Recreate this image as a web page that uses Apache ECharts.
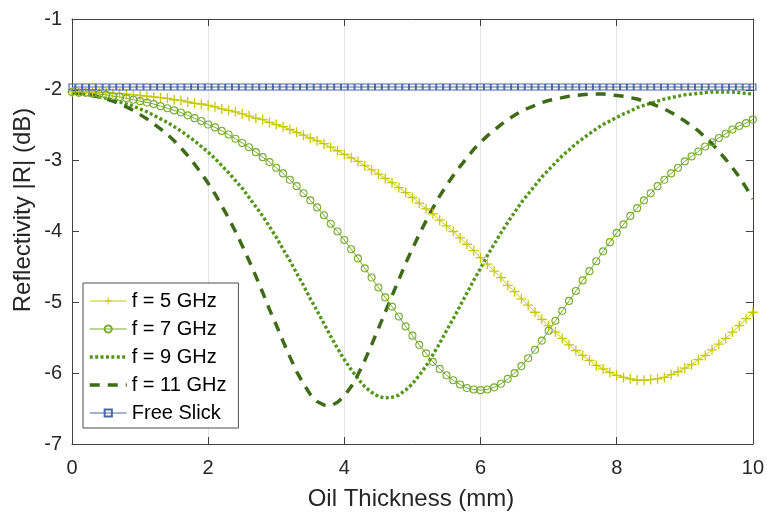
<!DOCTYPE html>
<html>
<head>
<meta charset="utf-8">
<script src="https://cdn.jsdelivr.net/npm/echarts@6/dist/echarts.min.js"></script>
<style>
html,body{margin:0;padding:0;background:#ffffff;}
#chart{width:767px;height:516px;}
</style>
</head>
<body>
<div id="chart"></div>
<script>
// Oil thickness (mm)
const thickness = [0,0.1,0.2,0.3,0.4,0.5,0.6,0.7,0.8,0.9,
  1,1.1,1.2,1.3,1.4,1.5,1.6,1.7,1.8,1.9,
  2,2.1,2.2,2.3,2.4,2.5,2.6,2.7,2.8,2.9,
  3,3.1,3.2,3.3,3.4,3.5,3.6,3.7,3.8,3.9,
  4,4.1,4.2,4.3,4.4,4.5,4.6,4.7,4.8,4.9,
  5,5.1,5.2,5.3,5.4,5.5,5.6,5.7,5.8,5.9,
  6,6.1,6.2,6.3,6.4,6.5,6.6,6.7,6.8,6.9,
  7,7.1,7.2,7.3,7.4,7.5,7.6,7.7,7.8,7.9,
  8,8.1,8.2,8.3,8.4,8.5,8.6,8.7,8.8,8.9,
  9,9.1,9.2,9.3,9.4,9.5,9.6,9.7,9.8,9.9,10];

// Reflectivity |R| (dB)
const f5GHz = [-2.03,-2.03,-2.03,-2.03,-2.04,-2.04,-2.05,-2.05,-2.06,-2.07,
  -2.08,-2.09,-2.10,-2.11,-2.12,-2.14,-2.15,-2.17,-2.19,-2.20,
  -2.22,-2.24,-2.27,-2.29,-2.31,-2.34,-2.37,-2.40,-2.42,-2.46,
  -2.49,-2.52,-2.56,-2.60,-2.64,-2.68,-2.72,-2.76,-2.81,-2.86,
  -2.91,-2.96,-3.01,-3.07,-3.13,-3.19,-3.25,-3.31,-3.38,-3.45,
  -3.52,-3.60,-3.68,-3.75,-3.84,-3.92,-4.00,-4.09,-4.18,-4.27,
  -4.37,-4.46,-4.56,-4.65,-4.76,-4.85,-4.95,-5.04,-5.14,-5.24,
  -5.33,-5.42,-5.51,-5.60,-5.68,-5.75,-5.82,-5.89,-5.94,-5.99,
  -6.03,-6.06,-6.08,-6.10,-6.10,-6.09,-6.08,-6.06,-6.02,-5.98,
  -5.93,-5.88,-5.81,-5.75,-5.67,-5.59,-5.51,-5.42,-5.33,-5.23,-5.14];

const f7GHz = [-2.03,-2.04,-2.04,-2.05,-2.06,-2.07,-2.09,-2.10,-2.12,-2.14,
  -2.16,-2.18,-2.20,-2.23,-2.26,-2.29,-2.32,-2.36,-2.40,-2.44,
  -2.49,-2.53,-2.58,-2.63,-2.69,-2.75,-2.81,-2.88,-2.95,-3.02,
  -3.10,-3.18,-3.27,-3.36,-3.46,-3.56,-3.66,-3.77,-3.89,-4.00,
  -4.12,-4.25,-4.38,-4.52,-4.65,-4.79,-4.93,-5.06,-5.20,-5.34,
  -5.47,-5.60,-5.72,-5.84,-5.94,-6.03,-6.10,-6.16,-6.21,-6.23,
  -6.24,-6.23,-6.20,-6.15,-6.08,-6.00,-5.90,-5.79,-5.67,-5.54,
  -5.40,-5.26,-5.12,-4.98,-4.84,-4.69,-4.56,-4.42,-4.28,-4.15,
  -4.02,-3.90,-3.78,-3.67,-3.56,-3.46,-3.36,-3.27,-3.18,-3.10,
  -3.01,-2.94,-2.87,-2.80,-2.74,-2.68,-2.62,-2.56,-2.51,-2.47,-2.42];

const f9GHz = [-2.04,-2.05,-2.06,-2.08,-2.10,-2.12,-2.14,-2.17,-2.20,-2.23,
  -2.27,-2.31,-2.36,-2.41,-2.46,-2.52,-2.58,-2.65,-2.72,-2.80,
  -2.88,-2.97,-3.07,-3.17,-3.28,-3.39,-3.52,-3.65,-3.78,-3.93,
  -4.08,-4.25,-4.41,-4.59,-4.76,-4.95,-5.12,-5.30,-5.48,-5.65,
  -5.81,-5.95,-6.08,-6.19,-6.27,-6.33,-6.35,-6.34,-6.31,-6.24,
  -6.15,-6.03,-5.90,-5.74,-5.58,-5.40,-5.23,-5.05,-4.87,-4.69,
  -4.52,-4.34,-4.18,-4.02,-3.87,-3.73,-3.59,-3.47,-3.35,-3.23,
  -3.13,-3.03,-2.93,-2.85,-2.76,-2.69,-2.62,-2.55,-2.49,-2.44,
  -2.39,-2.34,-2.30,-2.25,-2.22,-2.19,-2.16,-2.13,-2.11,-2.09,
  -2.07,-2.06,-2.05,-2.04,-2.03,-2.03,-2.03,-2.03,-2.04,-2.05,-2.06];

const f11GHz = [-2.04,-2.05,-2.06,-2.08,-2.10,-2.13,-2.16,-2.20,-2.24,-2.29,
  -2.35,-2.41,-2.48,-2.55,-2.63,-2.72,-2.82,-2.93,-3.05,-3.18,
  -3.32,-3.47,-3.64,-3.81,-4.00,-4.20,-4.41,-4.63,-4.86,-5.10,
  -5.32,-5.55,-5.77,-5.98,-6.15,-6.30,-6.40,-6.45,-6.46,-6.41,
  -6.32,-6.19,-6.02,-5.82,-5.60,-5.37,-5.14,-4.91,-4.68,-4.45,
  -4.24,-4.04,-3.85,-3.67,-3.50,-3.35,-3.21,-3.08,-2.96,-2.84,
  -2.74,-2.65,-2.57,-2.49,-2.42,-2.36,-2.30,-2.26,-2.22,-2.18,
  -2.15,-2.13,-2.11,-2.09,-2.08,-2.07,-2.06,-2.06,-2.06,-2.07,
  -2.08,-2.09,-2.11,-2.13,-2.16,-2.19,-2.23,-2.27,-2.32,-2.38,
  -2.44,-2.51,-2.58,-2.67,-2.76,-2.87,-2.98,-3.10,-3.23,-3.38,-3.54];

const freeSlick = [-1.96,-1.96,-1.96,-1.96,-1.96,-1.96,-1.96,-1.96,-1.96,-1.96,
  -1.96,-1.96,-1.96,-1.96,-1.96,-1.96,-1.96,-1.96,-1.96,-1.96,
  -1.96,-1.96,-1.96,-1.96,-1.96,-1.96,-1.96,-1.96,-1.96,-1.96,
  -1.96,-1.96,-1.96,-1.96,-1.96,-1.96,-1.96,-1.96,-1.96,-1.96,
  -1.96,-1.96,-1.96,-1.96,-1.96,-1.96,-1.96,-1.96,-1.96,-1.96,
  -1.96,-1.96,-1.96,-1.96,-1.96,-1.96,-1.96,-1.96,-1.96,-1.96,
  -1.96,-1.96,-1.96,-1.96,-1.96,-1.96,-1.96,-1.96,-1.96,-1.96,
  -1.96,-1.96,-1.96,-1.96,-1.96,-1.96,-1.96,-1.96,-1.96,-1.96,
  -1.96,-1.96,-1.96,-1.96,-1.96,-1.96,-1.96,-1.96,-1.96,-1.96,
  -1.96,-1.96,-1.96,-1.96,-1.96,-1.96,-1.96,-1.96,-1.96,-1.96,-1.96];

const seriesNames = ['f = 5 GHz','f = 7 GHz','f = 9 GHz','f = 11 GHz','Free Slick'];
const xTitle = 'Oil Thickness (mm)';
const yTitle = 'Reflectivity |R| (dB)';

const FONT = '"Liberation Sans", Arial, Helvetica, sans-serif';
const AXIS = '#404040';
const pairs = ys => thickness.map((x, i) => [x, ys[i]]);
const plusPath = 'path://M4.35,0H5.65V4.35H10V5.65H5.65V10H4.35V5.65H0V4.35H4.35Z';

const chart = echarts.init(document.getElementById('chart'), null, {renderer: 'canvas'});

const baseX = {
  type: 'value', min: 0, max: 10, interval: 2,
  axisLine: {show: true, onZero: false, lineStyle: {color: AXIS, width: 1}},
  axisTick: {show: true, inside: true, length: 7, lineStyle: {color: AXIS, width: 1}}
};
const baseY = {
  type: 'value', min: -7, max: -1, interval: 1,
  axisLine: {show: true, onZero: false, lineStyle: {color: AXIS, width: 1}},
  axisTick: {show: true, inside: true, length: 7, lineStyle: {color: AXIS, width: 1}}
};

chart.setOption({
  animation: false,
  backgroundColor: '#ffffff',
  grid: {left: 72, right: 14, top: 19, bottom: 72, containLabel: false},
  xAxis: [
    Object.assign({}, baseX, {
      position: 'bottom',
      axisLabel: {show: true, color: '#262626', fontSize: 20, fontFamily: FONT, margin: 14},
      splitLine: {show: true, lineStyle: {color: '#e4e4e4', width: 1}}
    }),
    Object.assign({}, baseX, {
      position: 'top',
      axisLabel: {show: false},
      splitLine: {show: false}
    })
  ],
  yAxis: [
    Object.assign({}, baseY, {
      position: 'left',
      axisLabel: {show: true, color: '#262626', fontSize: 20, fontFamily: FONT, margin: 10},
      splitLine: {show: false}
    }),
    Object.assign({}, baseY, {
      position: 'right',
      axisLabel: {show: false},
      splitLine: {show: false}
    })
  ],
  legend: {
    orient: 'vertical',
    left: 83, top: 283,
    data: [
      {name: seriesNames[0]},
      {name: seriesNames[1]},
      {name: seriesNames[2], itemStyle: {opacity: 0}},
      {name: seriesNames[3], itemStyle: {opacity: 0}},
      {name: seriesNames[4]}
    ],
    itemWidth: 37, itemHeight: 9, itemGap: 8,
    padding: [8, 12, 5, 5],
    borderColor: '#4d4d4d', borderWidth: 1, borderRadius: 0,
    backgroundColor: '#ffffff',
    lineStyle: {width: 'inherit'},
    textStyle: {fontSize: 20, fontFamily: FONT, color: '#000000', lineHeight: 20}
  },
  graphic: [
    {type: 'text', x: 411, y: 499, silent: true,
      style: {text: xTitle, fontSize: 24, fontFamily: FONT, fill: '#262626', align: 'center', verticalAlign: 'middle'}},
    {type: 'text', x: 23, y: 210, rotation: Math.PI / 2, silent: true,
      style: {text: yTitle, fontSize: 24, fontFamily: FONT, fill: '#262626', align: 'center', verticalAlign: 'middle'}}
  ],
  series: [
    {
      name: seriesNames[0], type: 'line', data: pairs(f5GHz),
      symbol: plusPath, symbolSize: 10, showSymbol: true,
      lineStyle: {color: '#cccc00', width: 1},
      itemStyle: {color: '#c8c800'}
    },
    {
      name: seriesNames[1], type: 'line', data: pairs(f7GHz),
      symbol: 'circle', symbolSize: 7, showSymbol: true,
      lineStyle: {color: '#77ac30', width: 1},
      itemStyle: {color: 'rgba(255,255,255,0)', borderColor: '#77ac30', borderWidth: 1.1}
    },
    {
      name: seriesNames[2], type: 'line', data: pairs(f9GHz),
      symbol: 'none',
      lineStyle: {color: '#55951a', width: 3.4, type: [3, 2.4]},
      itemStyle: {color: '#55951a'}
    },
    {
      name: seriesNames[3], type: 'line', data: pairs(f11GHz),
      symbol: 'none',
      lineStyle: {color: '#3f6a16', width: 3.5, type: [10, 8]},
      itemStyle: {color: '#3f6a16'}
    },
    {
      name: seriesNames[4], type: 'line', data: pairs(freeSlick),
      symbol: 'rect', symbolSize: 6, showSymbol: true,
      lineStyle: {color: '#4a67a8', width: 1.2},
      itemStyle: {color: 'rgba(255,255,255,0)', borderColor: '#4a67a8', borderWidth: 1.2}
    }
  ]
});
</script>
</body>
</html>
